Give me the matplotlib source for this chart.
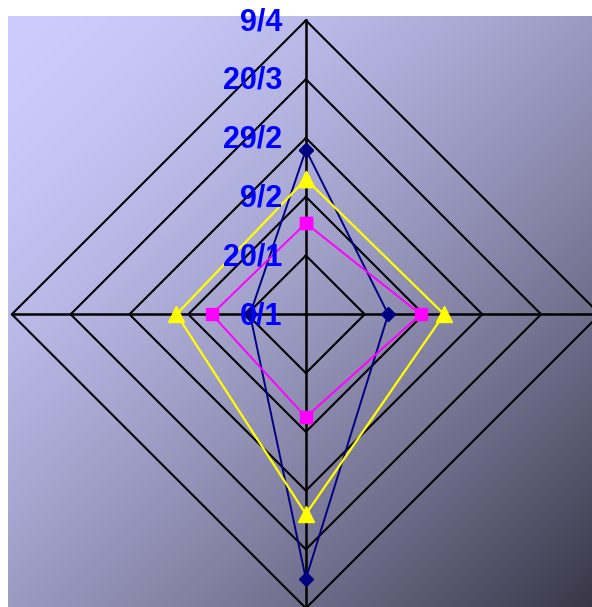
import matplotlib.pyplot as plt
import numpy as np

# radar values, axes order: top, right, bottom, left (days since 0/1)
navy = [56, 28, 90, 19]
magenta = [31, 39, 35, 32]
yellow = [46, 47, 68, 44]

ticks = [0, 20, 40, 60, 80, 100]
tick_labels = ['0/1', '20/1', '9/2', '29/2', '20/3', '9/4']

angles = np.deg2rad([90, 0, 270, 180])

def to_xy(vals):
    v = np.array(vals + vals[:1], dtype=float)
    a = np.append(angles, angles[0])
    return v * np.cos(a), v * np.sin(a)

fig = plt.figure(figsize=(5.92, 6.07), dpi=100)
ax = fig.add_axes([8 / 592, 0, 584 / 592, 591 / 607])
ax.set_xlim(-101.3, 97.3)
ax.set_ylim(-99.6, 101.5)
ax.axis('off')

# diagonal gradient background
c0 = np.array([204, 204, 255]) / 255
c1 = np.array([56, 54, 70]) / 255
gx, gy = np.meshgrid(np.linspace(0, 1, 300), np.linspace(0, 1, 300))
t = ((gx + gy) / 2) ** 1.6
img = c0 + (c1 - c0) * t[..., None]
ax.imshow(img, extent=[-101.3, 97.3, -99.6, 101.5], origin='upper',
          aspect='auto', zorder=0)

# diamond grid
for r in ticks[1:]:
    gxs, gys = to_xy([r] * 4)
    ax.plot(gxs, gys, color='black', lw=1.5, zorder=1, clip_on=False)
for a in angles:
    ax.plot([0, 100 * np.cos(a)], [0, 100 * np.sin(a)], color='black',
            lw=1.8, zorder=1, clip_on=False)

ax.plot(*to_xy(navy), color='#000080', lw=1.4, marker='D', ms=7, zorder=3)
ax.plot(*to_xy(magenta), color='#FF00FF', lw=1.4, marker='s', ms=9, zorder=3)
ax.plot(*to_xy(yellow), color='#FFFF00', lw=1.6, marker='^', ms=11, zorder=3)

for v, lab in zip(ticks, tick_labels):
    ax.text(-8.0, v - 0.6, lab, ha='right', va='center', color='#0000FF',
            fontsize=22, fontweight='bold', family='Liberation Sans', zorder=4)

fig.savefig('out.png', dpi=100)
